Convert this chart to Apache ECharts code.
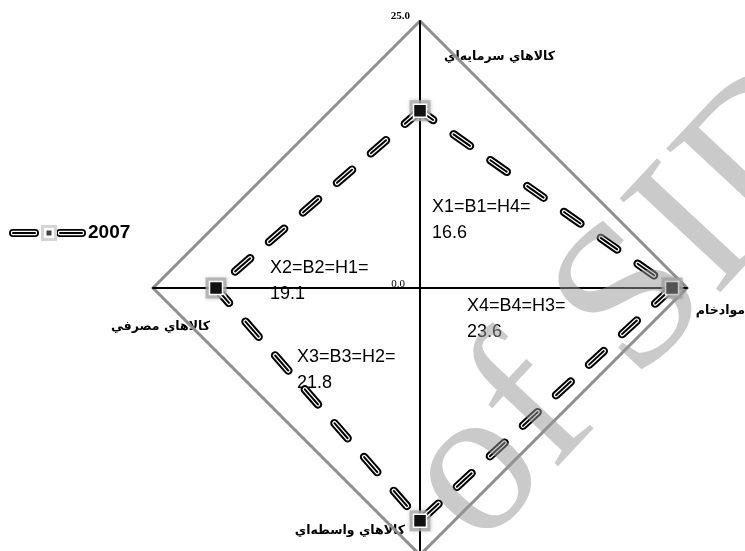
<!DOCTYPE html>
<html><head><meta charset="utf-8">
<script src="https://cdn.jsdelivr.net/npm/echarts@6/dist/echarts.min.js"></script>
<style>html,body{margin:0;padding:0;background:#fff}#c{width:745px;height:551px}</style>
</head><body><div id="c"></div>
<script>
// Data
const indicators = ['کالاهاي سرمايه‌اي', 'کالاهاي مصرفي', 'کالاهاي واسطه‌اي', 'موادخام'];
const values2007 = [16.6, 19.1, 21.8, 23.6];
const valueNames = ['X1=B1=H4=', 'X2=B2=H1=', 'X3=B3=H2=', 'X4=B4=H3='];
const seriesName = '2007';
const axisMax = 25.0;
const axisMin = 0.0;
const watermark = 'of SID';

const chart = echarts.init(document.getElementById('c'));
const fa = 'DejaVu Sans';
const namePos = [
  {x: 555, y: 57, align: 'right'},
  {x: 210, y: 327, align: 'right'},
  {x: 405, y: 531, align: 'right'},
  {x: 745, y: 311, align: 'right'}
];
const valPos = [
  {x: 432, y: 207}, {x: 270, y: 268}, {x: 297, y: 357}, {x: 467, y: 306}
];
const graphics = [];
indicators.forEach((n, i) => {
  graphics.push({type: 'text', x: namePos[i].x, y: namePos[i].y, style: {
    text: n, font: 'bold 12.5px "' + fa + '"', fill: '#000', align: namePos[i].align, verticalAlign: 'middle'}});
});
values2007.forEach((v, i) => {
  graphics.push({type: 'text', x: valPos[i].x, y: valPos[i].y + 13, style: {
    text: valueNames[i] + '\n' + v.toFixed(1), font: '18px "Liberation Sans"', lineHeight: 26, fill: '#000', verticalAlign: 'middle'}});
});
graphics.push({type: 'text', x: 410, y: 16, style: {text: axisMax.toFixed(1), font: 'bold 11px "Liberation Serif"', fill: '#000', align: 'right', verticalAlign: 'middle'}});
graphics.push({type: 'text', x: 405, y: 284, style: {text: axisMin.toFixed(1), font: '11px "Liberation Serif"', fill: '#000', align: 'right', verticalAlign: 'middle'}});
// legend
function pill(x) {
  graphics.push({type: 'line', shape: {x1: x, y1: 233, x2: x + 22, y2: 233}, style: {stroke: '#000', lineWidth: 8, lineCap: 'round'}});
  graphics.push({type: 'line', shape: {x1: x, y1: 233, x2: x + 22, y2: 233}, style: {stroke: '#fff', lineWidth: 4.5, lineCap: 'round'}});
  graphics.push({type: 'line', shape: {x1: x, y1: 233, x2: x + 22, y2: 233}, style: {stroke: '#000', lineWidth: 2, lineCap: 'round'}});
}
pill(13); pill(60);
graphics.push({type: 'rect', shape: {x: 41, y: 225, width: 16, height: 16}, style: {fill: '#d4d4d4'}});
graphics.push({type: 'rect', shape: {x: 44, y: 228, width: 10, height: 10}, style: {fill: '#fff'}});
graphics.push({type: 'rect', shape: {x: 46.5, y: 230.5, width: 5, height: 5}, style: {fill: '#444'}});
graphics.push({type: 'text', x: 88, y: 233, style: {text: seriesName, font: 'bold 19px "Liberation Sans"', fill: '#000', verticalAlign: 'middle'}});
// watermark overlay
graphics.push({type: 'text', x: 440, y: 512, rotation: 47 * Math.PI / 180, z: 100,
  style: {text: watermark, font: '210px "Liberation Serif"', fill: 'rgba(150,150,150,0.5)', align: 'left', verticalAlign: 'middle'}});

const dash = [20, 25];
chart.setOption({
  animation: false,
  radar: {
    center: [420, 288],
    radius: 267,
    startAngle: 90,
    shape: 'polygon',
    splitNumber: 1,
    indicator: indicators.map(n => ({name: n, max: axisMax, min: axisMin})),
    axisName: {show: false},
    axisLine: {lineStyle: {color: '#000', width: 2}},
    splitLine: {lineStyle: {color: '#8f8f8f', width: 3}},
    splitArea: {show: false},
    axisTick: {show: false},
    axisLabel: {show: false}
  },
  series: [
    {type: 'radar', name: seriesName, z: 2,
     symbol: 'rect', symbolSize: 21,
     itemStyle: {color: 'rgba(170,170,170,0.8)', shadowColor: 'rgba(0,0,0,0.25)', shadowBlur: 4},
     lineStyle: {color: '#000', width: 8.5, type: dash, cap: 'round'},
     data: [{value: values2007}]},
    {type: 'radar', name: seriesName + '_w', z: 3,
     symbol: 'none',
     lineStyle: {color: '#fff', width: 4.5, type: dash, cap: 'round'},
     data: [{value: values2007}]},
    {type: 'radar', name: seriesName + '_c', z: 4,
     symbol: 'rect', symbolSize: 13,
     itemStyle: {color: '#111', borderColor: '#fff', borderWidth: 1.5},
     lineStyle: {color: '#000', width: 2, type: dash, cap: 'round'},
     data: [{value: values2007}]}
  ],
  graphic: graphics
});
</script></body></html>
